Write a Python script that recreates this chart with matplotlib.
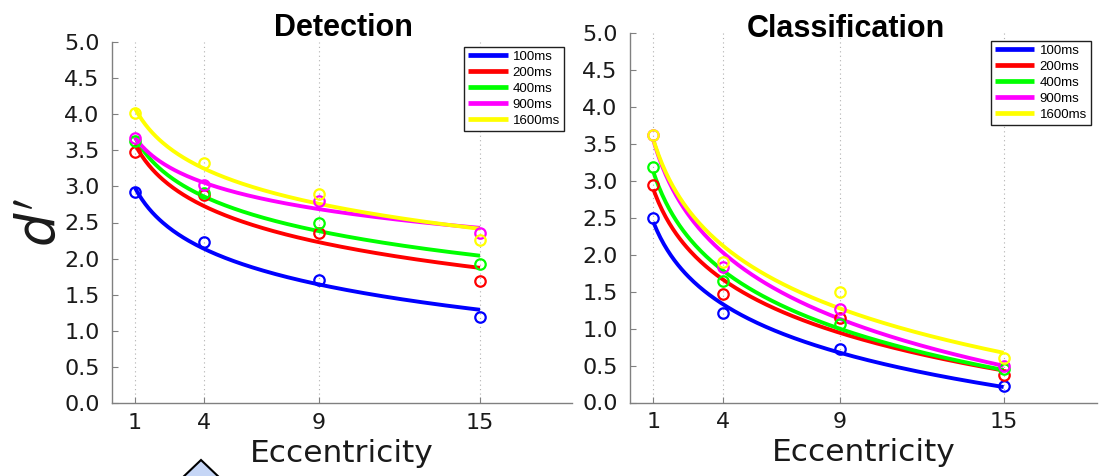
import numpy as np
import matplotlib
matplotlib.use("Agg")
import matplotlib.pyplot as plt
from matplotlib.patches import Polygon

# ---------------- data ----------------
ecc_pos = [1, 4, 9, 16]            # plotted positions
ecc_labels = ["1", "4", "9", "15"]  # tick labels shown
durations = ["100ms", "200ms", "400ms", "900ms", "1600ms"]
colors = ["#0000ff", "#ff0000", "#00ff00", "#ff00ff", "#ffff00"]

det_100 = [2.92, 2.23, 1.71, 1.19]
det_200 = [3.48, 2.88, 2.36, 1.69]
det_400 = [3.63, 2.91, 2.50, 1.92]
det_900 = [3.67, 3.02, 2.80, 2.35]
det_1600 = [4.01, 3.33, 2.90, 2.26]

cls_100 = [2.49, 1.21, 0.72, 0.23]
cls_200 = [2.94, 1.47, 1.14, 0.37]
cls_400 = [3.18, 1.64, 1.06, 0.46]
cls_900 = [3.62, 1.83, 1.26, 0.49]
cls_1600 = [3.62, 1.90, 1.50, 0.60]

detection = [det_100, det_200, det_400, det_900, det_1600]
classification = [cls_100, cls_200, cls_400, cls_900, cls_1600]

W, H = 1105, 476
fig = plt.figure(figsize=(W / 100, H / 100), dpi=100)
fig.patch.set_facecolor("white")

def px_axes(l, t, r, b):
    return [l / W, 1 - b / H, (r - l) / W, (b - t) / H]

ax1 = fig.add_axes(px_axes(112, 42, 572, 403))
ax2 = fig.add_axes(px_axes(630, 33, 1097, 402.5))

xs = np.asarray(ecc_pos, dtype=float)
xfit = np.linspace(xs.min(), xs.max(), 200)

def draw(ax, series, legend_anchor, label_y):
    for vals, col, lab in zip(series, colors, durations):
        y = np.asarray(vals)
        b, a = np.polyfit(np.log(xs), y, 1)   # log-linear regression of the series
        ax.plot(xfit, a + b * np.log(xfit), color=col, lw=2.8, label=lab,
                solid_capstyle="butt", zorder=3)
        ax.plot(xs, y, linestyle="none", marker="o", markersize=7.5,
                markerfacecolor="none", markeredgecolor=col,
                markeredgewidth=1.6, zorder=4)
    ax.set_xlim(0, 20)
    ax.set_ylim(0, 5)
    ax.set_xticks(ecc_pos)
    ax.set_xticklabels(ecc_labels)
    ax.set_yticks(np.arange(0, 5.01, 0.5))
    ax.set_yticklabels([f"{v:.1f}" for v in np.arange(0, 5.01, 0.5)])
    for s in ["top", "right"]:
        ax.spines[s].set_visible(False)
    for s in ["left", "bottom"]:
        ax.spines[s].set_color("#808080")
        ax.spines[s].set_linewidth(1.0)
    ax.tick_params(axis="both", direction="in", length=4, width=0.8,
                   color="#808080", labelsize=16, labelcolor="#1a1a1a")
    ax.tick_params(axis="y", pad=9)
    ax.tick_params(axis="x", pad=7)
    ax.xaxis.grid(True, linestyle=(0, (1, 3)), color="#b0b0b0", lw=0.8)
    ax.yaxis.grid(False)
    ax.set_axisbelow(True)
    ax.set_xlabel("Eccentricity", fontsize=22.5, color="#1a1a1a")
    ax.xaxis.label.set_va("baseline")
    ax.xaxis.set_label_coords(0.5, label_y)
    leg = ax.legend(loc="upper right", bbox_to_anchor=legend_anchor,
                    borderaxespad=0, handlelength=3.0,
                    handletextpad=0.4, labelspacing=0.28, borderpad=0.3,
                    fancybox=False, framealpha=1, edgecolor="#202020",
                    prop={"family": "Liberation Sans", "size": 9.5})
    leg.get_frame().set_linewidth(1.0)
    for h in leg.get_lines():
        h.set_linewidth(3.4)

draw(ax1, detection, (0.9826, 0.987), -0.1634)
draw(ax2, classification, (0.987, 0.979), -0.1583)

fig.text(343 / W, 1 - 36 / H, "Detection", ha="center", va="baseline",
         fontsize=22, fontweight="bold", family="Liberation Sans")
fig.text(846 / W, 1 - 37 / H, "Classification", ha="center", va="baseline",
         fontsize=22, fontweight="bold", family="Liberation Sans")
fig.text(40 / W, 1 - 222 / H, r"$d'$", rotation=90, ha="center", va="center",
         fontsize=38, color="#1a1a1a")

# decorative arrow tip at the bottom of the figure
tri = Polygon([(201 / W, 1 - 460 / H), (180 / W, 1 - 480 / H), (222 / W, 1 - 480 / H)],
              closed=True, transform=fig.transFigure, facecolor="#c6d6f6",
              edgecolor="black", lw=1.5, clip_on=False)
fig.patches.append(tri)

fig.savefig("out.png", dpi=100, facecolor="white")
